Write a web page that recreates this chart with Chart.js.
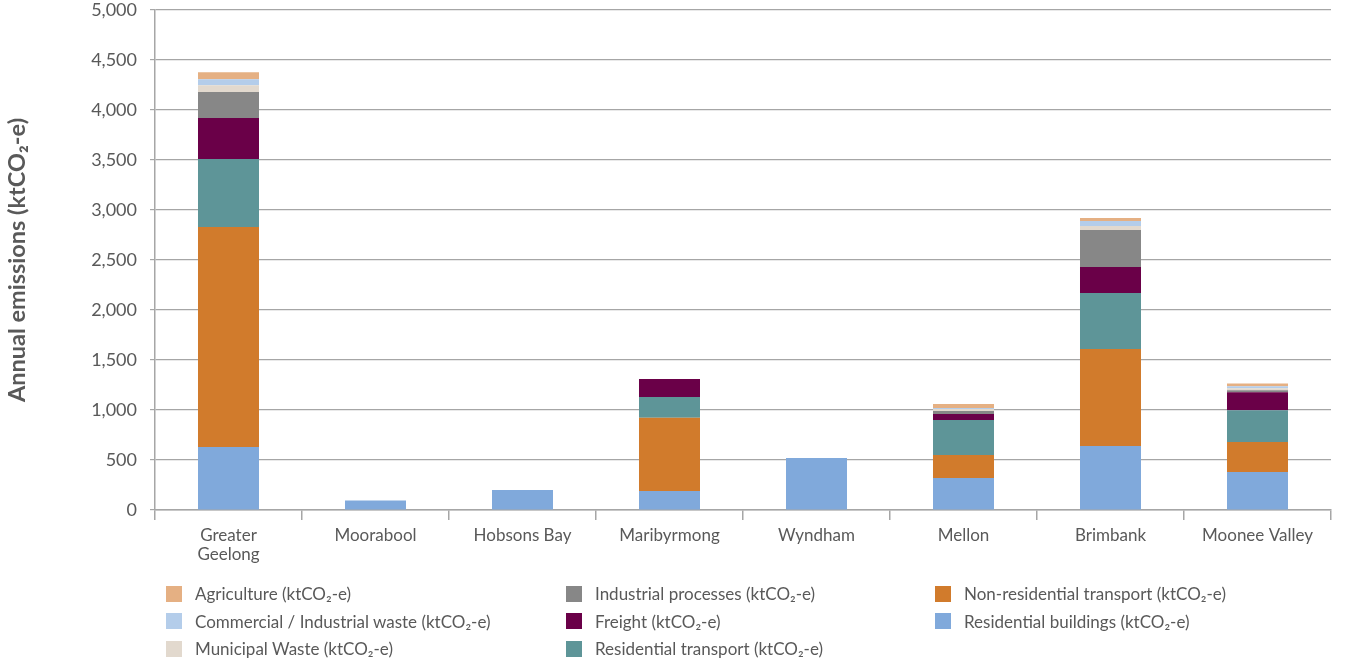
<!DOCTYPE html>
<html>
<head>
<meta charset="utf-8">
<script src="https://cdn.jsdelivr.net/npm/chart.js@4.4.1/dist/chart.umd.min.js"></script>
<style>
  html, body { margin: 0; padding: 0; background: #fff; }
  #wrap { position: relative; width: 1346px; height: 663px; overflow: hidden; }
  #c { position: absolute; left: 0; top: 0; }
  #legend {
    position: absolute; left: 166px; top: 580px;
    display: grid; grid-auto-flow: column;
    grid-template-rows: repeat(3, 27.5px);
    grid-template-columns: 400px 369px 400px;
    font-family: Lato, "Open Sans", sans-serif; font-size: 17px; color: #595959;
  }
  .item { display: flex; align-items: center; height: 27.5px; white-space: nowrap; }
  .box { width: 16px; height: 16px; margin-right: 13px; flex: none; }
</style>
</head>
<body>
<div id="wrap">
  <canvas id="c" width="1346" height="663"></canvas>
  <div id="legend"></div>
</div>
<script>
const councils = [["Greater", "Geelong"], "Moorabool", "Hobsons Bay", "Maribyrmong", "Wyndham", "Mellon", "Brimbank", "Moonee Valley"];

// Annual emissions by sector (ktCO2-e), one value per council
const residentialBuildings   = [630, 95, 200, 190, 520, 320, 640, 380];
const nonResidentialTransport = [2200, 0, 0, 733, 0, 230, 970, 300];
const residentialTransport    = [680, 0, 0, 207, 0, 350, 560, 317];
const freight                 = [410, 0, 0, 180, 0, 60, 260, 180];
const industrialProcesses     = [260, 0, 0, 0, 0, 30, 370, 20];
const municipalWaste          = [67, 0, 0, 0, 0, 20, 40, 20];
const commercialWaste         = [60, 0, 0, 0, 0, 10, 50, 20];
const agriculture             = [70, 0, 0, 0, 0, 40, 30, 27];

const yTicks = [0, 500, 1000, 1500, 2000, 2500, 3000, 3500, 4000, 4500, 5000];

const unit = " (ktCO\u2082-e)";
const series = [
  { label: "Residential buildings", data: residentialBuildings, color: "#80A9DB" },
  { label: "Non-residential transport", data: nonResidentialTransport, color: "#D17B2C" },
  { label: "Residential transport", data: residentialTransport, color: "#5E9598" },
  { label: "Freight", data: freight, color: "#6A0048" },
  { label: "Industrial processes", data: industrialProcesses, color: "#878787" },
  { label: "Municipal Waste", data: municipalWaste, color: "#E2D9CE" },
  { label: "Commercial / Industrial waste", data: commercialWaste, color: "#B4CDEA" },
  { label: "Agriculture", data: agriculture, color: "#E5B083" }
];

const legendOrder = ["Agriculture", "Commercial / Industrial waste", "Municipal Waste",
  "Industrial processes", "Freight", "Residential transport",
  "Non-residential transport", "Residential buildings"];

const legendEl = document.getElementById("legend");
legendOrder.forEach(name => {
  const s = series.find(d => d.label === name);
  const item = document.createElement("div");
  item.className = "item";
  const box = document.createElement("span");
  box.className = "box";
  box.style.background = s.color;
  const txt = document.createElement("span");
  txt.textContent = s.label + unit;
  item.appendChild(box);
  item.appendChild(txt);
  legendEl.appendChild(item);
});

const fontFamily = "Lato, 'Open Sans', sans-serif";
const textColor = "#595959";
const gridColor = "#a6a6a6";

new Chart(document.getElementById("c"), {
  type: "bar",
  data: {
    labels: councils,
    datasets: series.map(s => ({
      label: s.label + unit,
      data: s.data,
      backgroundColor: s.color,
      borderWidth: 0,
      barPercentage: 0.415,
      categoryPercentage: 1.0
    }))
  },
  options: {
    responsive: false,
    animation: false,
    layout: { padding: { left: 0, right: 15, top: 10, bottom: 93 } },
    plugins: { legend: { display: false }, tooltip: { enabled: false } },
    scales: {
      x: {
        stacked: true,
        afterFit: axis => { axis.height = 60; axis.paddingLeft = 0; axis.paddingRight = 0; },
        grid: { display: true, drawOnChartArea: false, offset: true, color: gridColor, lineWidth: 1.5, tickLength: 10 },
        border: { color: gridColor, width: 1.5 },
        ticks: { color: textColor, font: { family: fontFamily, size: 17, lineHeight: 1.1 }, padding: 6, maxRotation: 0, autoSkip: false }
      },
      y: {
        stacked: true,
        min: 0, max: 5000,
        afterBuildTicks: axis => { axis.ticks = yTicks.map(v => ({ value: v })); },
        afterFit: axis => { axis.width = 155; axis.paddingTop = 0; axis.paddingBottom = 0; },
        grid: { color: gridColor, lineWidth: 1.2, tickLength: 5 },
        border: { color: gridColor, width: 1.5 },
        ticks: {
          color: textColor, font: { family: fontFamily, size: 18 }, padding: 13,
          callback: v => v.toLocaleString("en-US")
        },
        title: {
          display: true, text: "Annual emissions (ktCO\u2082-e)", color: textColor,
          font: { family: fontFamily, size: 23.5, weight: "bold" }, padding: { top: 3, bottom: 4 }
        }
      }
    }
  }
});
</script>
</body>
</html>
